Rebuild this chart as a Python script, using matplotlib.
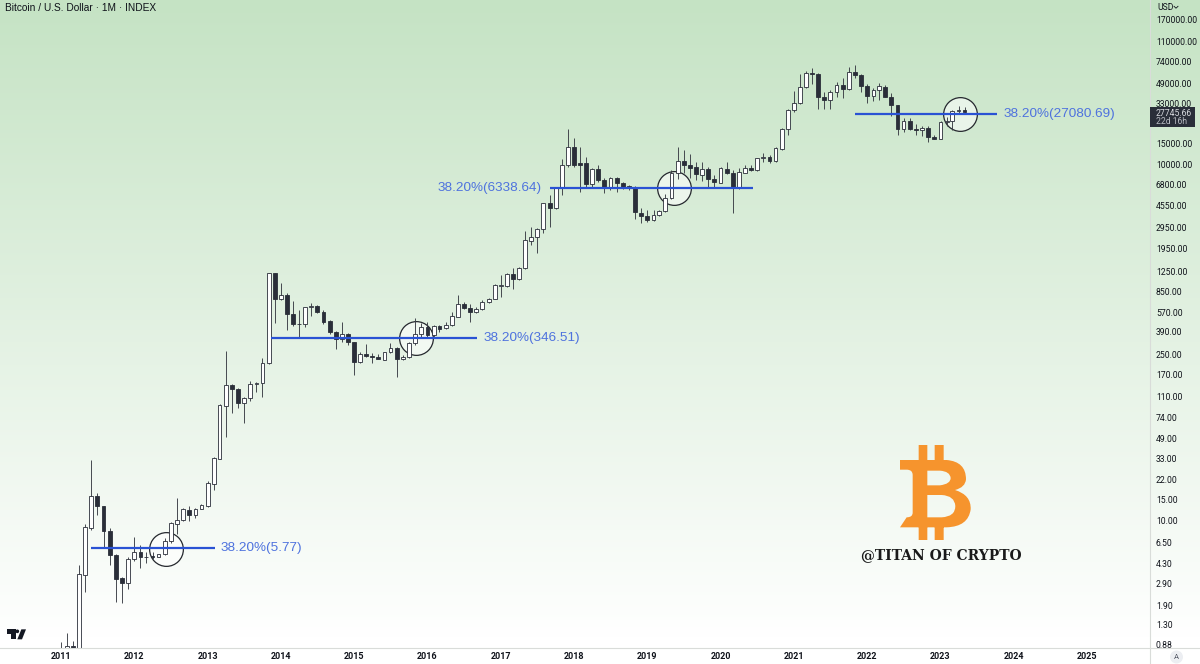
import numpy as np, pandas as pd
import matplotlib
matplotlib.use("Agg")
import matplotlib.pyplot as plt
import matplotlib.dates as mdates
from matplotlib.path import Path
from matplotlib.patches import PathPatch, Rectangle, Polygon, Circle
from matplotlib.transforms import Affine2D
from matplotlib.lines import Line2D
from matplotlib.colors import LinearSegmentedColormap

opens=[0.3,0.52,0.86,0.78,3.46,8.62,16.1,13.2,8.13,5.1,3.26,2.96,4.66,5.4,4.9,
4.97,4.9,5.13,6.65,9.32,10,12.2,11.1,12.5,13.1,20.2,33,92.4,138,128,
96.7,107,140,143,211,1210,731,801,546,455,453,626,638,575,480,
385,336,375,319,215,254,241,237,226,261,282,231,237,315,375,
424,363,435,416,444,522,668,622,568,602,690,736,954,954,1190,
1080,1340,2270,2440,2850,4730,4350,6410,9900,14100,10300,10300,6890,9160,7440,
6330,7690,6980,6580,6330,3940,3700,3400,3740,4050,5210,8480,10800,10000,9520,
8260,9160,7540,7070,9280,8480,6330,8590,9400,8980,11400,11600,10800,13700,19900,
28900,33100,45100,59300,58500,37600,35300,41200,47200,43400,61200,57400,46600,38400,42900,
45700,37600,31800,19900,23500,20100,19700,20600,17100,16400,23100,23300,28500,29000]
highs=[0.94,1.11,0.956,4.17,9.26,32.1,16.8,13.2,8.51,5.16,3.32,4.9,7.14,6.15,5.4,
5.4,5.2,7,9.69,15.4,12.6,13.1,12.7,13.7,21.2,34.3,95.5,268,140,130,
109,149,147,232,1230,1230,998,832,712,594,634,685,655,594,489,
392,474,382,321,264,307,256,251,264,315,287,248,321,505,458,
474,444,441,474,575,795,699,668,626,722,755,985,1170,1210,1340,
1380,2780,2970,2950,4790,5560,6540,11300,19900,16700,14100,11700,9340,9970,7690,
7940,7840,7210,6750,6620,4290,4150,4150,4150,5630,9040,14100,13300,12300,10600,
10600,9520,8200,9520,10500,9040,9340,9970,9970,11500,12500,12100,14100,20300,29400,
42000,58500,62400,65300,59300,41500,42900,50400,53800,66600,69700,58500,48200,44300,48800,
47200,40200,32000,24700,24700,22100,21300,21300,17900,23600,25500,29000,31400,30600]
lows=[0.3,0.52,0.7,0.56,2.48,8.24,11,5.77,4.17,2.04,1.98,2.63,4.54,3.91,4.31,
4.66,4.84,5.07,6.36,7.62,9.88,9.88,10.4,12.3,13,17.9,32.6,50.6,79.6,88.9,
65.6,102,121,110,208,458,722,403,435,342,424,529,564,453,373,
276,321,301,168,211,237,213,228,225,259,162,225,235,301,342,
354,354,390,411,438,522,606,474,560,594,681,731,760,935,888,
1060,1330,2100,1810,2640,3000,4210,5560,9520,9650,5930,6540,6460,7210,5740,
6130,5930,6290,6130,3510,3210,3290,3350,3720,4000,5110,7540,8480,7690,7440,
7350,6540,6460,6980,8310,3940,6210,8480,8930,8930,10600,10400,10600,13300,17900,
28100,32600,44600,47800,29400,29400,29400,37600,36400,42900,53800,41500,33500,34600,35300,
37200,25800,17900,19100,19700,17900,17500,15500,16400,16400,21300,19700,27200,27200]
closes=[0.52,0.86,0.78,3.478,8.675,16.06,13.22,8.078,5.098,3.197,2.939,4.656,5.405,4.872,4.841,
4.872,5.132,6.651,9.377,10.01,12.31,11.1,12.39,13.31,20.68,33.19,93.65,138.2,127,96.74,
106.6,140,142.7,210.6,1212,735.8,800.5,549.7,452.5,449.6,625.7,642.2,575.2,473.5,384.8,
335.8,375,320.9,214.7,254.1,241.3,236.6,230.6,260.8,281.9,230.6,238.2,314.8,375,429.6,
363,435.3,413.3,440.9,528.7,667.7,617.7,571.5,605.8,694.1,740.6,966.1,966.1,1197,1086,
1353,2303,2441,2871,4729,4347,6414,9902,14050,10030,10030,6888,9161,7445,6331,
7690,6977,6497,6372,3970,3697,3420,3769,4074,5212,8586,10770,10030,9463,8366,
9161,7542,7161,9341,8530,6331,8642,9402,9043,11350,11720,10770,13780,19940,28860,
33070,45130,59260,58120,37640,35280,41490,47230,43410,61210,57370,46320,38380,42850,46320,
37640,31800,20070,23450,19940,19690,20600,17070,16520,23150,23300,28300,29040,27760]

year_labels=list(range(2011,2026))
price_ticks=[170000,110000,74000,49000,33000,15000,10000,6800,4550,2950,1950,1250,850,570,390,250,170,110,74,49,33,22,15,10,6.5,4.3,2.9,1.9,1.3,0.88]
levels=[5.77,346.51,6338.64,27080.69]
level_spans=[("2011-06-01","2013-02-05"),("2013-11-15","2016-09-05"),("2017-09-01","2020-06-12"),("2021-11-01","2023-10-10")]
level_names=["38.20%(5.77)","38.20%(346.51)","38.20%(6338.64)","38.20%(27080.69)"]
circle_dates=["2012-06-05","2015-11-05","2019-05-15","2023-04-08"]
circle_prices=[5.7,346,6338,27000]
last_price=27745.66

BLUE="#2a52d4"; LABEL="#4e72de"; INK="#0f121a"; DARK="#2a2e39"; SEP="#d9dcd9"
F=["Liberation Sans","DejaVu Sans"]
R=["Roboto","DejaVu Sans"]
def val(y): return 0.88*10**((645-y)/118.4)

dates=pd.date_range("2011-01-01",periods=len(opens),freq="MS")
o,h,l,c=[np.array(a,float) for a in (opens,highs,lows,closes)]
fig=plt.figure(figsize=(12,6.64),dpi=100)
bg=fig.add_axes([0,0,1,1],zorder=0);bg.axis("off")
cm=LinearSegmentedColormap.from_list("g",["#c5e3c4","#ffffff"])
bg.imshow(np.r_[np.linspace(0,1,640),np.ones(24)].reshape(-1,1),aspect="auto",cmap=cm,extent=[0,1,0,1])

ax=fig.add_axes([0,16/664,1150/1200,648/664],zorder=1);ax.patch.set_alpha(0)
ax.set_yscale("log")
ax.set_ylim(val(648),val(0))
ax.set_xlim(mdates.date2num(pd.Timestamp("2010-03-03")),mdates.date2num(pd.Timestamp("2025-11-10")))
x=mdates.date2num(dates); up=c>=o
ax.scatter(mdates.date2num(pd.to_datetime(circle_dates)),circle_prices,s=590,facecolor=(1,1,1,0.55),edgecolor="#25282e",linewidth=0.9,zorder=2,clip_on=False)
ax.vlines(x,l,h,color="#3a3d45",lw=0.65,zorder=3)
ax.bar(x,np.abs(c-o),bottom=np.minimum(o,c),width=19,color=np.where(up,"#ffffff","#2a2e39"),edgecolor="#2a2e39",linewidth=0.6,zorder=4)
for lv,(a,b),name in zip(levels,level_spans,level_names):
    xa,xb=mdates.date2num(pd.Timestamp(a)),mdates.date2num(pd.Timestamp(b))
    ax.plot([xa,xb],[lv,lv],color=BLUE,lw=1.6,zorder=5,solid_capstyle="butt")
    if name=="38.20%(6338.64)":
        ax.annotate(name,(xa,lv),xytext=(-8,0),textcoords="offset pixels",ha="right",va="center",color=LABEL,fontsize=9.7,family=F)
    else:
        ax.annotate(name,(xb,lv),xytext=(6,0),textcoords="offset pixels",ha="left",va="center",color=LABEL,fontsize=9.7,family=F)

for s in ax.spines.values(): s.set_visible(False)
ax.yaxis.tick_right()
ax.set_yticks(price_ticks)
ax.set_yticklabels([f"{t:.2f}" for t in price_ticks],fontsize=6.2,color=INK,family=R)
ax.yaxis.set_minor_locator(matplotlib.ticker.NullLocator())
ax.tick_params(axis="y",length=0,pad=4.2)
ax.set_xticks(mdates.date2num(pd.to_datetime([f"{y}-01-01" for y in year_labels])))
ax.set_xticklabels([str(y) for y in year_labels],fontsize=6.5,fontweight="bold",color=INK,family=R)
ax.xaxis.set_minor_locator(matplotlib.ticker.NullLocator())
ax.tick_params(axis="x",length=0,pad=2.6)

W,H=1200,664
def px(xp,yp): return xp/W,1-yp/H
fig.add_artist(Line2D([0,1],[1-648/H]*2,color=SEP,lw=0.8,zorder=6))
fig.add_artist(Line2D([1150/W]*2,[0,1],color=SEP,lw=0.8,zorder=6))
fig.text(*px(5,8),"Bitcoin / U.S. Dollar · 1M · INDEX",fontsize=7.3,color=INK,va="center",family=F,zorder=7)
fig.text(*px(1157,7),"USD",fontsize=6.2,color=INK,va="center",family=R,zorder=7)
fig.add_artist(Line2D([1174/W,1176/W,1178/W],[1-6.3/H,1-8.2/H,1-6.3/H],color=INK,lw=0.6,zorder=7))
# last-price tag
fig.add_artist(Rectangle(px(1150,127),45/W,20/H,transform=fig.transFigure,facecolor=DARK,edgecolor="none",zorder=7))
fig.text(*px(1156,113),f"{last_price:.2f}",fontsize=6.2,color="#d7d9de",va="center",family=R,zorder=8)
fig.text(*px(1156,121.5),"22d 16h",fontsize=6.2,color="#b8bbc2",va="center",family=R,zorder=8)
# auto-scale badge
fig.add_artist(matplotlib.patches.Ellipse(px(1176.5,657),13/W,13/H,transform=fig.transFigure,facecolor="#eceef2",edgecolor="none",zorder=6))
fig.text(*px(1176.5,657),"A",fontsize=5.6,color="#555a66",ha="center",va="center",family=R,zorder=7)

# Logo glyphs, drawn in the pixel frame of the crop they were read from
def crop(x0,y0): return Affine2D().scale(1/3,-1/3).translate(x0,H-y0)
tf=crop(840,430)
MV,LN,C3,CL=Path.MOVETO,Path.LINETO,Path.CURVE3,Path.CLOSEPOLY
verts=[];codes=[]
def add(seq):
    for op,*pts in seq:
        for p in pts:
            verts.append(p);codes.append(op)
add([(MV,(180,90)),(LN,(320,90)),(C3,(378,95),(378,148)),(C3,(376,172),(345,180)),(C3,(394,195),(392,238)),(C3,(385,290),(320,292)),
     (LN,(180,292)),(LN,(200,262)),(C3,(218,262),(218,248)),(LN,(218,135)),(C3,(218,119),(200,119)),(LN,(180,119)),(CL,(180,90))])
add([(MV,(262,122)),(LN,(262,166)),(LN,(300,166)),(C3,(332,162),(332,144)),(C3,(330,124),(300,122)),(CL,(262,122))])
add([(MV,(262,195)),(LN,(262,262)),(LN,(305,262)),(C3,(346,260),(346,228)),(C3,(344,197),(305,195)),(CL,(262,195))])
for xa,xb,ya,yb in [(236,262,45,95),(284,311,45,95),(236,262,288,330),(284,311,288,330)]:
    add([(MV,(xa,ya)),(LN,(xb,ya)),(LN,(xb,yb)),(LN,(xa,yb)),(CL,(xa,ya))])
fig.add_artist(PathPatch(Path(verts,codes),transform=tf,facecolor="#f6942d",edgecolor="none",zorder=7))
fig.text(*px(941,555),"@TITAN OF CRYPTO",fontsize=10,fontweight="bold",family="DejaVu Serif",color="#1a1a1a",ha="center",va="center",zorder=8)

# TradingView mark
t2=crop(0,430)
fig.add_artist(Polygon([(20,598),(48,598),(48,628),(34,628),(34,612),(20,612)],transform=t2,facecolor="#131722",edgecolor="none",zorder=7))
fig.add_artist(Circle((52,604),5.5,transform=t2,facecolor="#131722",edgecolor="none",zorder=7))
fig.add_artist(Polygon([(64,598),(78,598),(66,628),(52,628)],transform=t2,facecolor="#131722",edgecolor="none",zorder=7))

fig.savefig("out.png",dpi=100)
